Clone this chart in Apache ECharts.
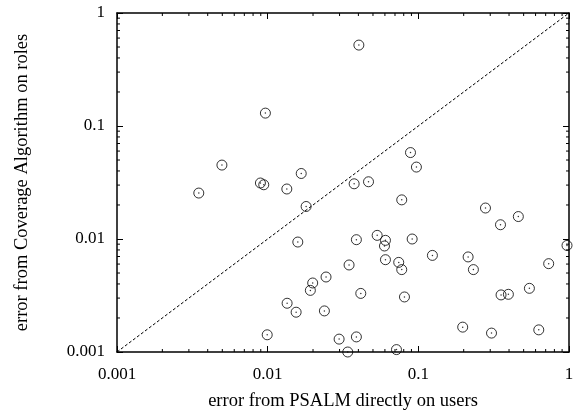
<!DOCTYPE html>
<html>
<head>
<meta charset="utf-8">
<script src="https://cdn.jsdelivr.net/npm/echarts@6/dist/echarts.min.js"></script>
<style>
  html, body { margin: 0; padding: 0; background: #fff; }
  #chart { width: 581px; height: 410px; }
</style>
</head>
<body>
<div id="chart"></div>
<script>
// error from PSALM directly on users (x)
var psalmErr = [
  0.00966, 0.00497, 0.00895, 0.00942, 0.0134, 0.0167, 0.00349,
  0.0403, 0.0887, 0.0971, 0.0375, 0.0467, 0.0776,
  0.018, 0.01585, 0.0244, 0.0199, 0.0192, 0.01346, 0.01545, 0.0238, 0.00993,
  0.279, 0.461, 0.351, 0.0533, 0.0388, 0.0605, 0.0596, 0.091, 0.97,
  0.124, 0.214, 0.232, 0.733, 0.0605, 0.0741, 0.0776, 0.0347,
  0.0415, 0.0809, 0.354, 0.396, 0.546, 0.197, 0.306, 0.63,
  0.0298, 0.0388, 0.034, 0.0716
]
// error from Coverage Algorithm on roles (y)
var coverageErr = [
  0.130, 0.0451, 0.0313, 0.0302, 0.0277, 0.038, 0.0255,
  0.52, 0.0582, 0.0433, 0.0308, 0.0321, 0.0222,
  0.0194, 0.0094, 0.00461, 0.00408, 0.00351, 0.0027, 0.00225, 0.00231, 0.00142,
  0.0188, 0.0158, 0.01337, 0.01077, 0.00986, 0.00973, 0.00867, 0.01, 0.00877,
  0.00716, 0.00694, 0.00536, 0.00605, 0.00656, 0.00621, 0.00536, 0.00589,
  0.0033, 0.00307, 0.0032, 0.00324, 0.00366, 0.00166, 0.00147, 0.00157,
  0.0013, 0.00136, 0.001, 0.00105
]
var tickLabels = ['0.001', '0.01', '0.1', '1']
var diagonal = [[0.001, 0.001], [1, 1]]
// minor tick positions 2..9 in each decade
var minorTicks = []
;[0.001, 0.01, 0.1].forEach(function (d) {
  for (var k = 2; k <= 9; k++) minorTicks.push(+(d * k).toPrecision(3))
})

var points = psalmErr.map(function (x, i) { return [x, coverageErr[i]] })
var font = '"Liberation Serif", "DejaVu Serif", serif'

function logAxis(pos, showLabel, name) {
  return {
    type: 'log',
    logBase: 10,
    min: 0.001,
    max: 1,
    position: pos,
    name: name,
    nameLocation: 'middle',
    nameGap: pos === 'left' ? 85 : 40,
    nameTextStyle: { fontFamily: font, fontSize: 18.5, color: '#000' },
    axisLine: { show: true, onZero: false, lineStyle: { color: '#000', width: 1.5 } },
    axisTick: { show: true, inside: true, length: 6, lineStyle: { color: '#000', width: 1 } },
    axisLabel: {
      show: showLabel,
      fontFamily: font,
      fontSize: 17,
      color: '#000',
      margin: pos === 'left' ? 12 : 14,
      formatter: function (v) {
        var i = Math.round(Math.log10(v)) + 3
        return tickLabels[i] || ''
      }
    },
    splitLine: { show: false }
  }
}

var option = {
  backgroundColor: '#fff',
  animation: false,
  grid: { left: 117, right: 12, top: 13, bottom: 58, outerBoundsMode: 'none', containLabel: false },
  xAxis: [
    logAxis('bottom', true, 'error from PSALM directly on users'),
    logAxis('top', false, '')
  ],
  yAxis: [
    logAxis('left', true, 'error from Coverage Algorithm on roles'),
    logAxis('right', false, '')
  ],
  series: [
    {
      // minor ticks on all four sides
      type: 'custom',
      silent: true,
      data: minorTicks,
      renderItem: function (params, api) {
        var v = api.value(0)
        var cs = params.coordSys
        var px = api.coord([v, 0.001])[0]
        var py = api.coord([0.001, v])[1]
        var len = 3
        var st = { stroke: '#000', lineWidth: 1 }
        return {
          type: 'group',
          children: [
            { type: 'line', shape: { x1: px, y1: cs.y + cs.height, x2: px, y2: cs.y + cs.height - len }, style: st },
            { type: 'line', shape: { x1: px, y1: cs.y, x2: px, y2: cs.y + len }, style: st },
            { type: 'line', shape: { x1: cs.x, y1: py, x2: cs.x + len, y2: py }, style: st },
            { type: 'line', shape: { x1: cs.x + cs.width, y1: py, x2: cs.x + cs.width - len, y2: py }, style: st }
          ]
        }
      }
    },
    {
      type: 'line',
      data: diagonal,
      symbol: 'none',
      lineStyle: { color: '#000', width: 1, type: [3, 2] }
    },
    {
      type: 'scatter',
      data: points,
      symbol: 'circle',
      symbolSize: 10,
      itemStyle: { color: 'rgba(0,0,0,0)', borderColor: '#000', borderWidth: 1 }
    },
    {
      type: 'scatter',
      data: points,
      symbol: 'circle',
      symbolSize: 1.5,
      itemStyle: { color: '#000' }
    }
  ]
}

var myChart = echarts.init(document.getElementById('chart'))
myChart.setOption(option)
</script>
</body>
</html>
